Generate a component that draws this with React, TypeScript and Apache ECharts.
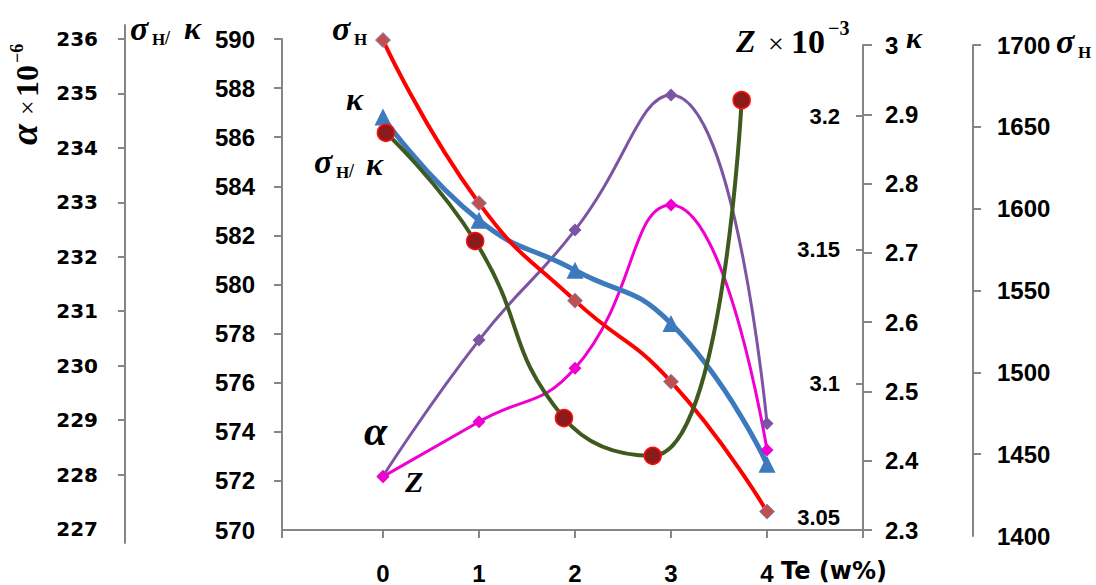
import React, { useEffect, useRef } from "react";
import * as echarts from "echarts";

// ---- data ----
const teValues = [0, 1, 2, 3, 4];
const sigmaH = [1703, 1603.4, 1543.8, 1494.3, 1414.9]; // σH (right outer axis)
const kappa = [2.896, 2.747, 2.675, 2.598, 2.395]; // κ (right axis)
const alpha = [227.97, 230.47, 232.49, 234.97, 228.94]; // α×10^-6 (left outer axis)
const zVals = [3.0654, 3.0859, 3.1059, 3.1668, 3.0754]; // Z×10^-3
const ratioX = [0.03, 0.96, 1.885, 2.81, 3.736];
const ratioVals = [586.18, 581.77, 574.56, 573.02, 587.51]; // σH/κ

const xTickLabels = [0, 1, 2, 3, 4];
const ratioTicks = [572, 574, 576, 578, 580, 582, 584, 586, 588, 590];
const alphaLabels = [227, 228, 229, 230, 231, 232, 233, 234, 235, 236];
const alphaTicks = [228, 229, 230, 231, 232, 233, 234, 235, 236];
const zLabels = [3.05, 3.1, 3.15, 3.2];
const zTicks = [3.1, 3.15, 3.2];
const sigmaTicks = [1450, 1500, 1550, 1600, 1650, 1700];

const XMIN = -1.052;
const XMAX = 5;

const serif = '"Liberation Serif", "Times New Roman", serif';
const sans = '"Liberation Sans", Arial, sans-serif';
const dejavu = '"DejaVu Sans", sans-serif';
const AX = "#868686";

function gt(text: string, x: number, y: number, size: number, opts: any = {}) {
  return {
    type: "text",
    x,
    y,
    silent: true,
    style: {
      text,
      fontSize: size,
      fontFamily: opts.family || serif,
      fontWeight: opts.weight || "bold",
      fontStyle: opts.style || "italic",
      fill: "#000",
      align: opts.align || "left",
      verticalAlign: opts.va || "middle",
    },
  };
}

const pair = (xs: number[], ys: number[]) => xs.map((x, i) => [x, ys[i]]);

export default function App() {
  const ref = useRef<HTMLDivElement>(null);
  useEffect(() => {
    if (!ref.current) return;
    const chart = echarts.init(ref.current, undefined, { renderer: "svg" });
    const gridBase = { left: 282, width: 581 };
    const hiddenX = (gi: number) => ({
      gridIndex: gi,
      type: "value",
      min: XMIN,
      max: XMAX,
      show: false,
    });
    const line = { show: true, onZero: false, lineStyle: { color: AX, width: 2 } };
    const lblBase = { color: "#000", fontFamily: sans, fontWeight: "bold", fontSize: 24 };
    const plain = (v: number) => String(Math.round(v * 100) / 100);
    chart.setOption({
      animation: false,
      backgroundColor: "#fff",
      grid: [
        { ...gridBase, top: 39, height: 491 },
        { ...gridBase, top: 25, height: 518 },
        { ...gridBase, top: 45, height: 485 },
        { ...gridBase, top: 45, height: 491 },
      ],
      xAxis: [
        {
          gridIndex: 0,
          type: "value",
          min: XMIN,
          max: XMAX,
          axisLine: line,
          axisTick: {
            length: 8,
            lineStyle: { color: AX, width: 2 },
            customValues: [XMIN, ...xTickLabels, XMAX],
          },
          axisLabel: { ...lblBase, margin: 31, customValues: xTickLabels, formatter: plain },
          splitLine: { show: false },
        },
        hiddenX(1),
        hiddenX(2),
        hiddenX(3),
      ],
      yAxis: [
        {
          gridIndex: 0,
          type: "value",
          position: "left",
          min: 570,
          max: 590,
          interval: 2,
          axisLine: line,
          axisTick: { show: true, length: 8, lineStyle: { color: AX, width: 2 }, customValues: ratioTicks },
          axisLabel: { ...lblBase, margin: 27, formatter: plain },
          splitLine: { show: false },
        },
        {
          gridIndex: 1,
          type: "value",
          position: "left",
          offset: 157,
          min: 226.743,
          max: 236.257,
          axisLine: line,
          axisTick: { show: true, length: 7, lineStyle: { color: AX, width: 2 }, customValues: alphaTicks },
          axisLabel: {
            ...lblBase,
            fontFamily: dejavu,
            fontSize: 20,
            margin: 27,
            customValues: alphaLabels,
            formatter: (v: number) => String(Math.round(v)),
          },
          splitLine: { show: false },
        },
        {
          gridIndex: 2,
          type: "value",
          position: "right",
          min: 2.3,
          max: 3.0,
          interval: 0.1,
          axisLine: line,
          axisTick: { show: true, length: 9, lineStyle: { color: AX, width: 2 } },
          axisLabel: { ...lblBase, margin: 22, formatter: plain },
          splitLine: { show: false },
        },
        {
          gridIndex: 2,
          type: "value",
          position: "right",
          min: 3.0455,
          max: 3.2265,
          axisLine: { show: false, onZero: false },
          axisTick: { show: true, inside: true, length: 7, lineStyle: { color: AX, width: 2 }, customValues: zTicks },
          axisLabel: {
            ...lblBase,
            fontSize: 22,
            inside: true,
            margin: 23,
            customValues: zLabels,
            formatter: plain,
          },
          splitLine: { show: false },
        },
        {
          gridIndex: 3,
          type: "value",
          position: "right",
          offset: 110,
          min: 1400,
          max: 1700,
          interval: 50,
          axisLine: line,
          axisTick: { show: true, length: 8, lineStyle: { color: AX, width: 2 }, customValues: sigmaTicks },
          axisLabel: { ...lblBase, margin: 24, formatter: plain },
          splitLine: { show: false },
        },
      ],
      series: [
        {
          name: "α",
          type: "line",
          xAxisIndex: 1,
          yAxisIndex: 1,
          data: pair(teValues, alpha),
          smooth: 0.5,
          clip: false,
          symbol: "diamond",
          symbolSize: 13,
          lineStyle: { color: "#7B55A3", width: 3 },
          itemStyle: { color: "#7B55A3" },
        },
        {
          name: "Z",
          type: "line",
          xAxisIndex: 2,
          yAxisIndex: 3,
          data: pair(teValues, zVals),
          smooth: 0.5,
          clip: false,
          symbol: "diamond",
          symbolSize: 13,
          lineStyle: { color: "#F000D0", width: 3 },
          itemStyle: { color: "#F000D0" },
        },
        {
          name: "κ",
          type: "line",
          xAxisIndex: 2,
          yAxisIndex: 2,
          data: pair(teValues, kappa),
          smooth: 0.5,
          clip: false,
          symbol: "triangle",
          symbolSize: 17,
          lineStyle: { color: "#3D79BD", width: 5 },
          itemStyle: { color: "#3D79BD" },
        },
        {
          name: "σH",
          type: "line",
          xAxisIndex: 3,
          yAxisIndex: 4,
          data: pair(teValues, sigmaH),
          smooth: 0.5,
          clip: false,
          symbol: "diamond",
          symbolSize: 15,
          lineStyle: { color: "#FF0000", width: 4 },
          itemStyle: { color: "#C0504D", borderColor: "#7F8FC8", borderWidth: 1 },
        },
        {
          name: "σH/κ",
          type: "line",
          xAxisIndex: 0,
          yAxisIndex: 0,
          data: pair(ratioX, ratioVals),
          smooth: 0.5,
          clip: false,
          symbol: "circle",
          symbolSize: 17,
          lineStyle: { color: "#3F5A1E", width: 4 },
          itemStyle: { color: "#8B1A1A", borderColor: "#FF1010", borderWidth: 1.5 },
        },
      ],
      graphic: [
        // top-left σH/κ axis title
        gt("σ", 130, 28, 34),
        gt("H", 152, 39, 17, { style: "normal" }),
        gt("/", 165, 38, 18, { style: "normal" }),
        gt("κ", 184, 28, 32),
        // in-plot labels
        gt("σ", 332, 28, 34),
        gt("H", 354, 39, 17, { style: "normal" }),
        gt("κ", 346, 99, 32),
        gt("σ", 314, 161, 34),
        gt("H", 336, 172, 17, { style: "normal" }),
        gt("/", 349, 171, 18, { style: "normal" }),
        gt("κ", 366, 164, 32),
        gt("α", 364, 431, 42),
        gt("Z", 405, 481, 30),
        // right titles
        gt("Z", 736, 41, 32),
        gt("×", 768, 43, 28, { style: "normal", weight: "normal" }),
        gt("10", 791, 41, 34, { style: "normal" }),
        gt("−3", 828, 28, 20, { style: "normal" }),
        gt("κ", 906, 37, 30),
        gt("σ", 1056, 41, 34),
        gt("H", 1078, 52, 17, { style: "normal" }),
        // x axis name
        gt("Te (w%)", 781, 571, 24, { family: dejavu, style: "normal" }),
        // rotated α×10^-6 title
        {
          type: "group",
          x: 43,
          y: 145,
          rotation: Math.PI / 2,
          children: [
            gt("α", 0, 0, 38, { va: "bottom" }),
            gt("×", 30, -3, 26, { va: "bottom", style: "normal", weight: "normal" }),
            gt("10", 48, 0, 32, { va: "bottom", style: "normal" }),
            gt("−6", 82, -17, 18, { va: "bottom", style: "normal" }),
          ],
        },
      ],
    });
    return () => chart.dispose();
  }, []);
  return (
    <div
      ref={ref}
      style={{ position: "fixed", left: 0, top: 0, width: 1096, height: 585, background: "#fff" }}
    />
  );
}
